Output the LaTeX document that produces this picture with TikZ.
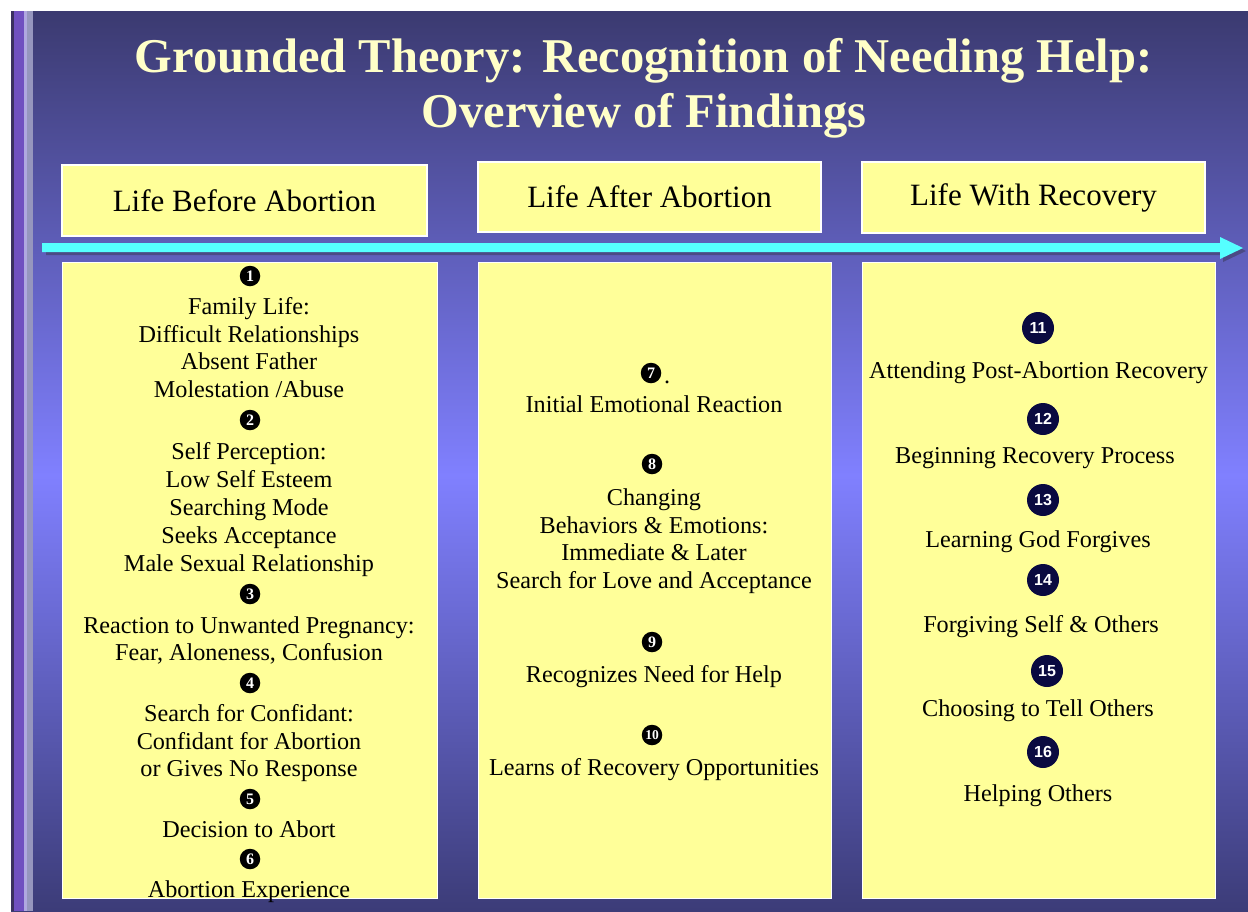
\documentclass[tikz,border=0pt]{standalone}
\usepackage{fontspec}
\setmainfont{Liberation Serif}
\newfontfamily\numfont{Liberation Sans}
\definecolor{bgtop}{RGB}{59,58,112}
\definecolor{bgmid}{RGB}{128,128,255}
\definecolor{bgbot}{RGB}{60,60,120}
\definecolor{titlec}{RGB}{255,255,200}
\definecolor{boxy}{RGB}{255,255,153}
\definecolor{arrowc}{RGB}{85,255,255}
\definecolor{shadowc}{RGB}{75,74,133}
\definecolor{navy}{RGB}{10,10,64}
\begin{document}
\begin{tikzpicture}[x=1pt,y=-1pt,
  titletxt/.style={text=titlec, font=\bfseries\fontsize{48.5}{52}\selectfont, anchor=base, inner sep=0},
  hbox/.style={draw=white, line width=1.2pt, fill=boxy, inner sep=0, font=\fontsize{31}{34}\selectfont},
  cbox/.style={draw=white, line width=1.2pt, fill=boxy, inner sep=0, anchor=north west},
  txt/.style={font=\fontsize{24.2}{28}\selectfont, anchor=mid, inner sep=0},
  numa/.style={circle, fill=black, inner sep=0, minimum size=20.5, text=white, font=\bfseries\fontsize{16}{16}\selectfont},
  numb/.style={circle, fill=navy, inner sep=0, minimum size=32, text=white, font=\numfont\bfseries\fontsize{16}{16}\selectfont}
]
\useasboundingbox (0,0) rectangle (1248,911);
\fill[white] (0,0) rectangle (1248,911);
% background
\shade[top color=bgtop, bottom color=bgmid] (11,11) rectangle (1248,475.5);
\shade[top color=bgmid, bottom color=bgbot] (11,475) rectangle (1248,911);
% left stripe
\fill[fill={rgb,255:red,58;green,48;blue,96}] (11,11) rectangle (14,911);
\fill[fill={rgb,255:red,112;green,80;blue,192}] (14,11) rectangle (24,911);
\fill[fill={rgb,255:red,176;green,168;blue,224}] (24,11) rectangle (27,911);
\fill[fill={rgb,255:red,150;green,150;blue,190}] (27,11) rectangle (33,911);
% title
\node[titletxt] (t1) at (643.5,72) {Grounded Theory: Recognition of Needing Help:};
\node[titletxt] (t2) at (644,127) {Overview of Findings};
% headers
\node[hbox, minimum width=365, minimum height=71] (h1) at (244.5,200.5) {Life Before Abortion};
\node[hbox, minimum width=343, minimum height=70] (h2) at (649.5,197) {Life After Abortion};
\node[hbox, minimum width=343, minimum height=71] (h3) at (1033.5,197.5) {Life With Recovery};
% arrow
\fill[shadowc] (46,246) -- (1223,246) -- (1223,240) -- (1246,251) -- (1223,262) -- (1223,255) -- (46,255) -- cycle;
\fill[arrowc] (42,243) -- (1220,243) -- (1220,237) -- (1243,248) -- (1220,259) -- (1220,252) -- (42,252) -- cycle;
% content boxes
\node[cbox, minimum width=375, minimum height=636] (c1) at (62,262) {};
\node[cbox, minimum width=353, minimum height=636] (c2) at (478,262) {};
\node[cbox, minimum width=353, minimum height=636] (c3) at (862,262) {};
% column 1
\node[numa] (n1) at (250,276) {1};
\node[txt] (a1) at (249,312) {Family Life:};
\node[txt] (a2) at (249,340) {Difficult Relationships};
\node[txt] (a3) at (249,367) {Absent Father};
\node[txt] (a4) at (249,395) {Molestation /Abuse};
\node[numa] (n2) at (250,420) {2};
\node[txt] (a5) at (249,457) {Self Perception:};
\node[txt] (a6) at (249,485) {Low Self Esteem};
\node[txt] (a7) at (249,513) {Searching Mode};
\node[txt] (a8) at (249,541) {Seeks Acceptance};
\node[txt] (a9) at (249,569) {Male Sexual Relationship};
\node[numa] (n3) at (250,594) {3};
\node[txt] (a10) at (249,631) {Reaction to Unwanted Pregnancy:};
\node[txt] (a11) at (249,658) {Fear, Aloneness, Confusion};
\node[numa] (n4) at (250,683) {4};
\node[txt] (a12) at (249,719) {Search for Confidant:};
\node[txt] (a13) at (249,747) {Confidant for Abortion};
\node[txt] (a14) at (249,774) {or Gives No Response};
\node[numa] (n5) at (250,799) {5};
\node[txt] (a15) at (249,835) {Decision to Abort};
\node[numa] (n6) at (250,859) {6};
\node[txt] (a16) at (249,895) {Abortion Experience};
% column 2
\node[numa] (n7) at (651,373) {7};
\node[txt, anchor=base west] (d7) at (664,383) {.};
\node[txt] (b1) at (654,410) {Initial Emotional Reaction};
\node[numa] (n8) at (652,464) {8};
\node[txt] (b2) at (654,503) {Changing};
\node[txt] (b3) at (654,531) {Behaviors \& Emotions:};
\node[txt] (b4) at (654,558) {Immediate \& Later};
\node[txt] (b5) at (654,586) {Search for Love and Acceptance};
\node[numa] (n9) at (652,642) {9};
\node[txt] (b6) at (654,680) {Recognizes Need for Help};
\node[numa, font=\bfseries\fontsize{13.5}{13.5}\selectfont] (n10) at (652,735) {10};
\node[txt] (b7) at (654,773) {Learns of Recovery Opportunities};
% column 3
\node[numb] (n11) at (1038,328) {11};
\node[txt] (e1) at (1038.5,376) {Attending Post-Abortion Recovery};
\node[numb] (n12) at (1043,419) {12};
\node[txt] (e2) at (1035,461) {Beginning Recovery Process};
\node[numb] (n13) at (1043,500) {13};
\node[txt] (e3) at (1038,545) {Learning God Forgives};
\node[numb] (n14) at (1043,580) {14};
\node[txt] (e4) at (1041,630) {Forgiving Self \& Others};
\node[numb] (n15) at (1047,671) {15};
\node[txt] (e5) at (1038,714) {Choosing to Tell Others};
\node[numb] (n16) at (1043,752) {16};
\node[txt] (e6) at (1038,799) {Helping Others};
\end{tikzpicture}
\end{document}
